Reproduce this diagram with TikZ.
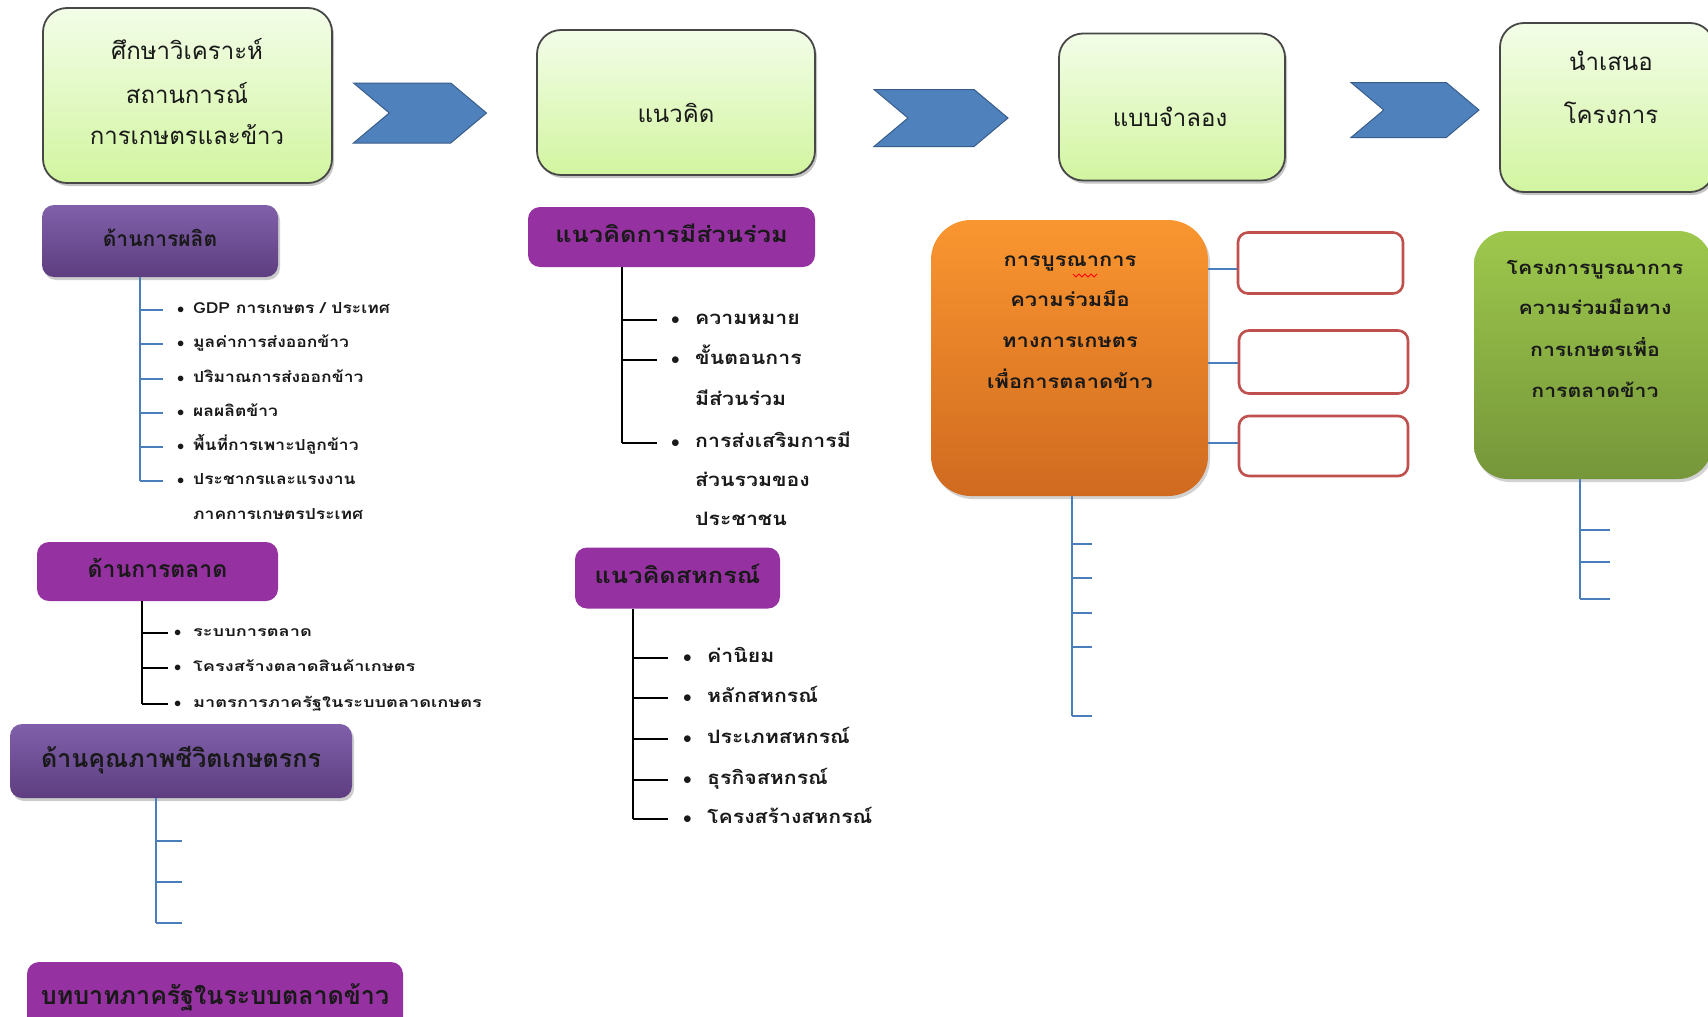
\documentclass[tikz,border=0pt]{standalone}
\usepackage{fontspec}
\setmainfont{Loma}[Script=Thai]
\newfontfamily\thaiA[Script=Thai,FakeStretch=1.15]{Loma}
\newfontfamily\thaiB[Script=Thai,FakeStretch=1.3]{Loma}
\usetikzlibrary{shapes.symbols,shadows}
\definecolor{gTop}{RGB}{243,253,232}
\definecolor{gBot}{RGB}{210,245,160}
\definecolor{arrowblue}{RGB}{79,129,189}
\definecolor{arrowedge}{RGB}{56,93,138}
\definecolor{purTop}{RGB}{128,96,170}
\definecolor{purBot}{RGB}{94,62,128}
\definecolor{purFlat}{RGB}{149,49,160}
\definecolor{orTop}{RGB}{250,150,48}
\definecolor{orBot}{RGB}{208,106,32}
\definecolor{grTop}{RGB}{157,200,76}
\definecolor{grBot}{RGB}{118,150,58}
\definecolor{redEdge}{RGB}{192,80,77}
\definecolor{lineBlue}{RGB}{74,126,187}
\begin{document}
\begin{tikzpicture}[x=1pt,y=-1pt,
  every node/.style={inner sep=0pt, text=black!90},
  gbox/.style={draw=black!72, line width=1.8pt, rounded corners=24pt, top color=gTop, bottom color=gBot,
    drop shadow={shadow xshift=2pt, shadow yshift=-3pt, opacity=0.45}},
  chev/.style={signal, signal to=east, signal from=west, signal pointer angle=80,
    fill=arrowblue, draw=arrowedge, line width=1pt},
  pgrad/.style={rounded corners=12pt, top color=purTop, bottom color=purBot,
    drop shadow={shadow xshift=2pt, shadow yshift=-3pt, opacity=0.4}},
  pflat/.style={rounded corners=12pt, fill=purFlat},
  obox/.style={rounded corners=40pt, top color=orTop, bottom color=orBot,
    drop shadow={shadow xshift=2pt, shadow yshift=-3pt, opacity=0.35}},
  gnbox/.style={rounded corners=34pt, top color=grTop, bottom color=grBot,
    drop shadow={shadow xshift=2pt, shadow yshift=-3pt, opacity=0.35}},
  rbox/.style={draw=redEdge, line width=2.6pt, rounded corners=10pt, fill=white},
  bl/.style={draw=lineBlue, line width=1.8pt},
  bk/.style={draw=black, line width=1.8pt},
  t24/.style={font=\fontsize{24pt}{28pt}\selectfont, text height=13.2pt, text depth=1.2pt},
  tbo/.style={font=\thaiA\bfseries\fontsize{19pt}{22pt}\selectfont, text height=10.4pt, text depth=0.9pt},
  tbg/.style={font=\thaiA\bfseries\fontsize{18.5pt}{22pt}\selectfont, text height=10.2pt, text depth=0.9pt},
  tb21/.style={font=\bfseries\fontsize{21pt}{24pt}\selectfont, text height=11.5pt, text depth=1pt},
  tb23/.style={font=\bfseries\fontsize{23pt}{26pt}\selectfont, text height=12.6pt, text depth=1.1pt},
  tb25/.style={font=\bfseries\fontsize{25pt}{28pt}\selectfont, text height=13.7pt, text depth=1.2pt},
  tbs22/.style={font=\thaiA\bfseries\fontsize{22pt}{26pt}\selectfont, text height=12.1pt, text depth=1.1pt},
  it14/.style={anchor=west, font=\thaiB\bfseries\fontsize{14pt}{16pt}\selectfont, text height=7.7pt, text depth=0.7pt},
  it15/.style={anchor=west, font=\thaiA\bfseries\fontsize{15.2pt}{17pt}\selectfont, text height=8.3pt, text depth=0.8pt},
  it18/.style={anchor=west, font=\thaiA\bfseries\fontsize{18.5pt}{20pt}\selectfont, text height=10.2pt, text depth=0.9pt}
]
\useasboundingbox (0,0) rectangle (1708,1017);
\clip (0,0) rectangle (1708,1017);
\fill[white] (0,0) rectangle (1708,1017);

% ---------- top row ----------
\node[gbox, minimum width=289pt, minimum height=175pt] (b1) at (187.5,95.5) {};
\node[t24] (b1a) at (187,53) {ศึกษาวิเคราะห์};
\node[t24] (b1b) at (187,97) {สถานการณ์};
\node[t24] (b1c) at (187,138) {การเกษตรและข้าว};

\node[gbox, minimum width=278pt, minimum height=145pt] (b2) at (676,102.5) {};
\node[t24] (b2a) at (676,116) {แนวคิด};

\node[gbox, minimum width=226pt, minimum height=147pt] (b3) at (1172,107) {};
\node[t24] (b3a) at (1170,120) {แบบจำลอง};

\node[gbox, minimum width=214pt, minimum height=169pt] (b4) at (1607,107.5) {};
\node[t24] (b4a) at (1611,64) {นำเสนอ};
\node[t24] (b4b) at (1611,117) {โครงการ};

\node[chev, minimum width=133pt, minimum height=60pt] (a1) at (420,113) {};
\node[chev, minimum width=134pt, minimum height=57pt] (a2) at (941,118) {};
\node[chev, minimum width=128pt, minimum height=55pt] (a3) at (1415,110) {};

% ---------- column 1 ----------
\node[pgrad, minimum width=236pt, minimum height=72pt, tb21] (p1) at (160,241) {ด้านการผลิต};
\node[it15] (i11) at (177,310) {\makebox[16pt][l]{$\bullet$}GDP การเกษตร / ประเทศ};
\node[it15] (i12) at (177,344) {\makebox[16pt][l]{$\bullet$}มูลค่าการส่งออกข้าว};
\node[it15] (i13) at (177,379) {\makebox[16pt][l]{$\bullet$}ปริมาณการส่งออกข้าว};
\node[it15] (i14) at (177,413) {\makebox[16pt][l]{$\bullet$}ผลผลิตข้าว};
\node[it15] (i15) at (177,447) {\makebox[16pt][l]{$\bullet$}พื้นที่การเพาะปลูกข้าว};
\node[it15] (i16) at (177,481) {\makebox[16pt][l]{$\bullet$}ประชากรและแรงงาน};
\node[it15] (i16b) at (193,516) {ภาคการเกษตรประเทศ};
\coordinate (t1) at (140,481);
\draw[bl] (p1.south -| t1) -- (t1);
\foreach \n in {i11,i12,i13,i14,i15,i16}
  \draw[bl] (\n.west -| t1) -- ([xshift=-14pt]\n.west);

\node[pflat, minimum width=241pt, minimum height=59pt, tb23] (p2) at (157.5,571.5) {ด้านการตลาด};
\node[it14] (i21) at (174,633) {\makebox[19pt][l]{$\bullet$}ระบบการตลาด};
\node[it14] (i22) at (174,668) {\makebox[19pt][l]{$\bullet$}โครงสร้างตลาดสินค้าเกษตร};
\node[it14] (i23) at (174,704) {\makebox[19pt][l]{$\bullet$}มาตรการภาครัฐในระบบตลาดเกษตร};
\coordinate (t2) at (142,704);
\draw[bk] (p2.south -| t2) -- (t2);
\foreach \n in {i21,i22,i23}
  \draw[bk] (\n.west -| t2) -- ([xshift=-6pt]\n.west);

\node[pgrad, minimum width=342pt, minimum height=74pt, tb25] (p3) at (181,761) {ด้านคุณภาพชีวิตเกษตรกร};
\coordinate (t3) at (156,923);
\coordinate (q31) at (182,841);
\coordinate (q32) at (182,882);
\coordinate (q33) at (182,923);
\draw[bl] (p3.south -| t3) -- (t3);
\foreach \n in {q31,q32,q33}
  \draw[bl] (\n -| t3) -- (\n);

\node[pflat, minimum width=376pt, minimum height=73pt, tb25] (p4) at (215,998.5) {บทบาทภาครัฐในระบบตลาดข้าว};

% ---------- column 2 ----------
\node[pflat, minimum width=287pt, minimum height=60pt, tbs22] (p5) at (671.5,237) {แนวคิดการมีส่วนร่วม};
\node[it18] (i51) at (671,320) {\makebox[24pt][l]{$\bullet$}ความหมาย};
\node[it18] (i52) at (671,360) {\makebox[24pt][l]{$\bullet$}ขั้นตอนการ};
\node[it18] (i52b) at (695,401) {มีส่วนร่วม};
\node[it18] (i53) at (671,443) {\makebox[24pt][l]{$\bullet$}การส่งเสริมการมี};
\node[it18] (i53b) at (695,482) {ส่วนรวมของ};
\node[it18] (i53c) at (695,521) {ประชาชน};
\coordinate (t5) at (622,443);
\draw[bk] (p5.south -| t5) -- (t5);
\foreach \n in {i51,i52,i53}
  \draw[bk] (\n.west -| t5) -- ([xshift=-14pt]\n.west);

\node[pflat, minimum width=205pt, minimum height=61pt, tbs22] (p6) at (677.5,578) {แนวคิดสหกรณ์};
\node[it18] (i61) at (683,658) {\makebox[24pt][l]{$\bullet$}ค่านิยม};
\node[it18] (i62) at (683,698) {\makebox[24pt][l]{$\bullet$}หลักสหกรณ์};
\node[it18] (i63) at (683,739) {\makebox[24pt][l]{$\bullet$}ประเภทสหกรณ์};
\node[it18] (i64) at (683,780) {\makebox[24pt][l]{$\bullet$}ธุรกิจสหกรณ์};
\node[it18] (i65) at (683,819) {\makebox[24pt][l]{$\bullet$}โครงสร้างสหกรณ์};
\coordinate (t6) at (633,819);
\draw[bk] (p6.south -| t6) -- (t6);
\foreach \n in {i61,i62,i63,i64,i65}
  \draw[bk] (\n.west -| t6) -- ([xshift=-15pt]\n.west);

% ---------- column 3 ----------
\node[obox, minimum width=277pt, minimum height=276pt] (ob) at (1069.5,358) {};
\node[tbo] (o1) at (1070,262) {การบูรณาการ};
\node[tbo] (o2) at (1070,302) {ความร่วมมือ};
\node[tbo] (o3) at (1070,343) {ทางการเกษตร};
\node[tbo] (o4) at (1070,384) {เพื่อการตลาดข้าว};
\draw[red, line width=0.8pt] (1073,274) -- (1076,277) -- (1079,274) -- (1082,277) -- (1085,274)
  -- (1088,277) -- (1091,274) -- (1094,277) -- (1097,274);

\node[rbox, minimum width=165pt, minimum height=61pt] (r1) at (1320.5,263) {};
\node[rbox, minimum width=169pt, minimum height=63pt] (r2) at (1323.5,362) {};
\node[rbox, minimum width=169pt, minimum height=60pt] (r3) at (1323.5,446) {};
\coordinate (c1) at (1238,269);
\coordinate (c2) at (1238,363);
\coordinate (c3) at (1238,443);
\draw[bl] (c1 -| ob.east) -- (c1 -| r1.west);
\draw[bl] (c2 -| ob.east) -- (c2 -| r2.west);
\draw[bl] (c3 -| ob.east) -- (c3 -| r3.west);

\coordinate (t7) at (1072,716);
\draw[bl] (ob.south -| t7) -- (t7);
\foreach \y [count=\k] in {544,578,613,647,716} {
  \coordinate (q7\k) at (1092,\y);
  \draw[bl] (q7\k -| t7) -- (q7\k);
}

% ---------- column 4 ----------
\node[gnbox, minimum width=238pt, minimum height=248pt] (gb) at (1593,355) {};
\node[tbg] (g1) at (1595,270) {โครงการบูรณาการ};
\node[tbg] (g2) at (1595,310) {ความร่วมมือทาง};
\node[tbg] (g3) at (1595,352) {การเกษตรเพื่อ};
\node[tbg] (g4) at (1595,393) {การตลาดข้าว};
\coordinate (t8) at (1580,599);
\draw[bl] (gb.south -| t8) -- (t8);
\foreach \y [count=\k] in {530,562,599} {
  \coordinate (q8\k) at (1610,\y);
  \draw[bl] (q8\k -| t8) -- (q8\k);
}
\end{tikzpicture}
\end{document}
